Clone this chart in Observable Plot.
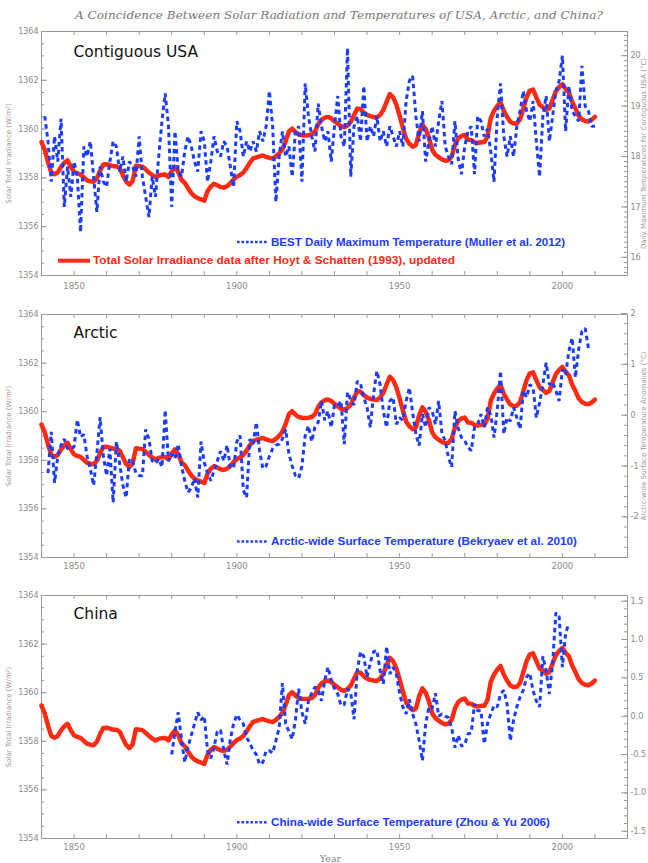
<!DOCTYPE html>
<html><head><meta charset="utf-8">
<script src="https://cdn.jsdelivr.net/npm/d3@7"></script>
<script src="https://cdn.jsdelivr.net/npm/@observablehq/plot@0.6"></script>
<style>
body{margin:0;background:#fff;}
#wrap{position:relative;width:648px;height:863px;overflow:hidden;background:#fff;}
.panel{position:absolute;left:0;}
#overlay{position:absolute;left:0;top:0;pointer-events:none;}
</style></head><body><div id="wrap"></div>
<script>
// ---------------- DATA ----------------
const chartTitle = "A Coincidence Between Solar Radiation and Temperatures of USA, Arctic, and China?";
const panelTitles = ["Contiguous USA", "Arctic", "China"];
const tsiLabel = "Solar Total Irradiance (W/m\u00b2)";
const rightLabels = ["Daily Maximum Temperatures for Contiguous USA (\u00b0C)", "Arctic-wide Surface Temperature Anomalies (\u00b0C)", ""];
const legendTemp = ["BEST Daily Maximum Temperature (Muller et al. 2012)", "Arctic-wide Surface Temperature (Bekryaev et al. 2010)", "China-wide Surface Temperature (Zhou & Yu 2006)"];
const legendTsi = "Total Solar Irradiance data after Hoyt & Schatten (1993), updated";
const xLabel = "Year";
const xTickLabels = [1850, 1900, 1950, 2000];
const tsiTicks = [1354, 1356, 1358, 1360, 1362, 1364];
const usaTicks = [16, 17, 18, 19, 20];
const arcticTicks = [-2, -1, 0, 1, 2];
const chinaTicks = [-1.5, -1.0, -0.5, 0.0, 0.5, 1.0, 1.5];

// Total solar irradiance (Hoyt & Schatten, updated), annual 1840-2010
const tsiStart = 1840;
const tsi = [
1359.47,1359.15,1358.65,1358.22,1358.15,1358.22,1358.45,1358.62,1358.72,1358.45,
1358.25,1358.18,1358.14,1358.02,1357.9,1357.86,1357.84,1357.98,1358.3,1358.55,
1358.56,1358.52,1358.48,1358.48,1358.4,1358.12,1357.85,1357.72,1357.88,1358.5,
1358.48,1358.46,1358.35,1358.22,1358.12,1358.03,1358.1,1358.13,1358.14,1358.04,
1358.28,1358.45,1358.25,1357.92,1357.8,1357.58,1357.38,1357.25,1357.17,1357.12,
1357.07,1357.45,1357.65,1357.76,1357.7,1357.63,1357.6,1357.66,1357.78,1357.93,
1358.05,1358.12,1358.22,1358.4,1358.62,1358.8,1358.84,1358.88,1358.92,1358.86,
1358.82,1358.79,1358.88,1359.0,1359.18,1359.5,1359.9,1360.02,1359.88,1359.78,
1359.75,1359.74,1359.75,1359.78,1359.9,1360.2,1360.38,1360.47,1360.5,1360.44,
1360.32,1360.22,1360.12,1360.08,1360.15,1360.3,1360.58,1360.84,1360.82,1360.68,
1360.58,1360.53,1360.5,1360.48,1360.58,1360.78,1361.12,1361.44,1361.3,1361.0,
1360.55,1360.05,1359.6,1359.4,1359.28,1359.35,1359.85,1360.18,1360.0,1359.65,
1359.15,1358.95,1358.85,1358.76,1358.7,1358.72,1358.88,1359.35,1359.62,1359.72,
1359.76,1359.56,1359.55,1359.45,1359.43,1359.46,1359.46,1359.7,1360.45,1360.75,
1360.95,1361.1,1360.75,1360.5,1360.3,1360.23,1360.24,1360.4,1360.85,1361.3,
1361.58,1361.62,1361.3,1361.0,1360.9,1360.78,1360.85,1361.2,1361.55,1361.72,
1361.84,1361.64,1361.5,1361.12,1360.85,1360.55,1360.4,1360.33,1360.31,1360.38,1360.5
];

// Contiguous USA daily maximum temperature (deg C), annual 1841-2010
const usaStart = 1841;
const usaTemp = [
18.8,18.3,17.5,18.4,17.9,18.75,17.0,17.8,17.2,17.9,
17.6,16.5,18.2,18.0,18.3,17.6,16.9,17.8,17.5,17.4,
17.9,18.3,18.2,17.7,18.0,17.5,17.9,17.8,17.6,18.4,
17.6,17.2,16.8,17.6,17.2,18.0,18.7,19.25,18.6,17.0,
18.5,17.7,17.6,18.1,18.4,18.2,17.9,17.7,18.5,18.3,
17.5,17.9,18.4,18.1,18.0,18.3,18.2,17.8,17.4,18.7,
18.5,18.0,18.3,18.1,18.3,18.1,18.5,18.3,18.6,19.3,
18.6,17.1,18.0,18.5,18.0,18.2,17.6,18.5,18.6,17.5,
19.45,18.8,18.4,18.1,19.05,18.6,18.3,18.5,17.9,18.6,
19.2,18.4,18.2,20.15,17.6,18.6,18.8,18.3,19.4,18.3,
18.6,18.4,18.8,18.3,18.5,18.2,18.6,18.4,18.2,18.5,
18.2,19.1,19.5,19.6,18.8,18.3,18.9,17.9,18.3,18.6,
18.2,18.7,19.1,18.2,18.0,17.85,18.7,17.95,17.65,18.2,
18.5,18.6,17.65,18.8,18.7,18.4,18.55,18.1,17.5,18.8,
19.45,18.4,18.0,18.4,18.0,18.6,18.9,19.3,18.9,18.7,
19.1,18.3,17.6,18.8,19.2,18.3,18.8,19.3,19.5,20.0,
18.5,19.4,18.9,18.8,18.7,19.8,19.0,18.9,18.6,18.6
];

// Arctic-wide surface temperature anomalies (deg C), annual 1842-2008
const arcticStart = 1842;
const arcticTemp = [
-1.14,-0.33,-1.33,-0.81,-0.59,-0.47,-0.66,-0.66,
-0.62,-0.09,-0.43,-0.38,-0.81,-1.05,-1.38,-0.76,-0.04,-0.81,
-1.19,-0.66,-1.72,-0.52,-0.95,-1.38,-1.62,-0.86,-0.9,-1.14,
-1.19,-1.19,-0.28,-0.47,-0.9,-0.95,-0.86,-1.02,0.1,-0.9,
-0.76,-0.86,-0.57,-1.0,-1.29,-1.52,-1.43,-1.24,-1.62,-0.52,
-0.93,-1.14,-1.29,-1.09,-0.9,-0.71,-0.9,-0.59,-1.02,-1.05,
-0.52,-0.4,-1.48,-1.62,-0.47,-0.57,-0.14,-0.71,-1.05,-1.0,
-0.81,-0.66,-0.59,-0.57,-0.47,-0.28,-0.76,-1.0,-1.19,-1.24,
-1.0,-0.4,-0.21,-0.52,-0.23,-0.14,0.28,-0.1,0.08,-0.24,
0.2,0.18,0.28,-0.57,0.45,0.3,0.2,0.67,0.62,0.35,
0.15,-0.24,0.41,0.87,0.6,0.08,-0.24,0.28,0.35,-0.18,
-0.05,-0.1,0.28,0.54,0.05,-0.37,-0.6,0.02,-0.24,0.15,
0.08,-0.18,0.28,-0.37,-0.5,-0.83,-1.02,0.08,-0.25,-0.44,
-0.5,-0.63,-0.7,-0.24,-0.18,0.02,-0.24,0.15,0.0,-0.44,
0.1,0.87,-0.37,-0.05,-0.12,0.15,-0.05,-0.27,0.48,0.35,
0.6,0.54,-0.05,0.25,0.6,1.03,0.6,0.65,0.48,0.28,
0.9,0.8,1.26,1.52,0.74,1.3,1.65,1.71,1.32
];

// China-wide surface temperature anomalies (deg C), annual 1880-2002
const chinaStart = 1880;
const chinaTemp = [
-0.5,-0.2,0.05,-0.3,-0.6,-0.4,-0.25,-0.1,0.05,-0.05,
0.0,-0.45,-0.55,-0.4,-0.2,-0.18,-0.45,-0.63,-0.3,-0.1,
0.02,-0.05,-0.1,-0.28,-0.35,-0.45,-0.5,-0.63,-0.6,-0.45,
-0.45,-0.48,-0.32,-0.15,0.43,-0.1,-0.2,-0.3,-0.05,0.36,
0.05,-0.1,0.2,0.3,0.38,0.35,0.2,0.47,0.64,0.47,
0.36,0.29,0.14,0.15,0.36,0.3,-0.04,0.6,0.84,0.78,
0.51,0.7,0.84,0.86,0.6,0.42,0.91,0.55,0.64,0.55,
0.3,0.12,0.03,0.22,0.03,-0.1,-0.32,-0.58,-0.1,0.12,
0.1,0.3,0.0,0.03,0.0,-0.02,-0.15,-0.41,-0.25,-0.39,
-0.37,-0.23,-0.22,0.16,0.07,0.07,-0.36,-0.1,0.03,0.14,
0.12,0.29,0.34,0.16,-0.32,-0.05,0.12,0.25,0.34,0.51,
0.56,0.33,0.2,0.12,0.78,0.6,0.29,0.69,1.35,1.3,
0.64,1.08,1.21
];

// ---------------- LAYOUT ----------------
const BLUE = "#1c3cff", RED = "#ff2a12", GRAY = "#999", LABEL = "#8a8a8a";
const FW = 586; // frame width
const tsiData = tsi.map((v, i) => ({year: tsiStart + i, v}));

const panels = [
  {top: 0, height: 295, mt: 31, mb: 20, temp: usaTemp, start: usaStart,
   tdom: [15.64, 20.48], ticks: usaTicks, minor: d3.range(157, 205).map(d => d / 10),
   fmt: d => String(d), titleDy: 25, xPad: 7},
  {top: 295, height: 280, mt: 19, mb: 18, temp: arcticTemp, start: arcticStart,
   tdom: [-2.8, 1.98], ticks: arcticTicks, minor: d3.range(-14, 10).map(d => d / 5),
   fmt: d => String(d), titleDy: 23, xPad: 5},
  {top: 575, height: 288, mt: 20, mb: 25, temp: chinaTemp, start: chinaStart,
   tdom: [-1.595, 1.574], ticks: chinaTicks, minor: d3.range(-15, 16).map(d => d / 10),
   fmt: d => d.toFixed(1), titleDy: 23, xPad: 5}
];

const wrap = document.getElementById("wrap");

panels.forEach((p, k) => {
  const H = p.height - p.mt - p.mb;
  const map = d3.scaleLinear().domain(p.tdom).range([1354, 1364]);
  const tempData = p.temp.map((t, i) => ({year: p.start + i, t}));
  const xMinor = d3.range(1840, 2021, 10);
  const leftMinor = d3.range(1354, 1364.001, 0.5);
  const marks = [
    Plot.frame({stroke: GRAY, strokeWidth: 1}),
    // x ticks (top & bottom, inward)
    Plot.tickX(xMinor, {x: d => d, stroke: GRAY, insetBottom: H - 4}),
    Plot.tickX(xMinor, {x: d => d, stroke: GRAY, insetTop: H - 4}),
    // left ticks
    Plot.tickY(leftMinor, {y: d => d, stroke: GRAY, insetRight: FW - 3}),
    Plot.tickY(tsiTicks, {y: d => d, stroke: GRAY, insetRight: FW - 6}),
    // right ticks
    Plot.tickY(p.minor, {y: d => map(d), stroke: GRAY, insetLeft: FW - 3}),
    Plot.tickY(p.ticks, {y: d => map(d), stroke: GRAY, insetLeft: FW - 6}),
    // tick labels
    Plot.text(tsiTicks, {y: d => d, text: d => String(d), frameAnchor: "left", textAnchor: "end", dx: -3, fontSize: 8, fill: LABEL}),
    Plot.text(p.ticks, {y: d => map(d), text: d => p.fmt(d), frameAnchor: "right", textAnchor: "start", dx: 3, fontSize: 8, fill: LABEL}),
    Plot.text(xTickLabels, {x: d => d, text: d => String(d), frameAnchor: "bottom", lineAnchor: "top", dy: p.xPad, fontSize: 8.5, fill: LABEL}),
    // axis titles
    Plot.text([tsiLabel], {frameAnchor: "left", textAnchor: "middle", lineAnchor: "middle", rotate: -90, dx: -33, fontSize: 7, fill: GRAY}),
    Plot.text([rightLabels[k]], {frameAnchor: "right", textAnchor: "middle", lineAnchor: "middle", rotate: -90, dx: 16, fontSize: 7, fill: GRAY}),
    // panel title
    Plot.text([panelTitles[k]], {frameAnchor: "top-left", textAnchor: "start", lineAnchor: "bottom", dx: 32, dy: p.titleDy, fontSize: 15.5, fill: "#111"}),
    // data: solar irradiance (solid red) then temperature (dashed blue) on top
    Plot.line(tsiData, {x: "year", y: "v", stroke: RED, strokeWidth: 4.5, strokeLinejoin: "round", strokeLinecap: "round"}),
    Plot.line(tempData, {x: "year", y: d => map(d.t), stroke: BLUE, strokeWidth: 3, strokeDasharray: "4.5,3.5", strokeLinecap: "butt", strokeLinejoin: "miter"})
  ];
  if (k === 2) {
    marks.push(Plot.text([xLabel], {frameAnchor: "bottom", lineAnchor: "bottom", dx: -4, dy: 23, fontSize: 9.5, fill: LABEL, fontFamily: "DejaVu Serif"}));
  }
  const plot = Plot.plot({
    width: 648, height: p.height,
    marginTop: p.mt, marginBottom: p.mb, marginLeft: 41, marginRight: 21,
    x: {domain: [1840, 2020], axis: null},
    y: {domain: [1354, 1364], axis: null},
    style: {background: "transparent", fontFamily: "DejaVu Sans"},
    marks
  });
  const div = document.createElement("div");
  div.className = "panel";
  div.style.top = p.top + "px";
  div.appendChild(plot);
  wrap.appendChild(div);
});

// ---------------- TITLE & LEGENDS (overlay) ----------------
const ov = d3.select(wrap).append("svg").attr("id", "overlay")
  .attr("width", 648).attr("height", 863);
ov.append("text").attr("x", 75).attr("y", 19).text(chartTitle)
  .attr("textLength", 528).attr("lengthAdjust", "spacingAndGlyphs")
  .style("font", "italic 11.5px 'DejaVu Serif'").attr("fill", "#777");

const legendRows = [
  {y: 242, end: 565},
  {y: 541.5, end: 577},
  {y: 822.3, end: 550}
];
legendRows.forEach((r, k) => {
  ov.append("line").attr("x1", 237).attr("x2", 268).attr("y1", r.y).attr("y2", r.y)
    .attr("stroke", BLUE).attr("stroke-width", 2.6).attr("stroke-dasharray", "2.6,1.9");
  ov.append("text").attr("x", 271).attr("y", r.y + 3.6).text(legendTemp[k])
    .attr("textLength", r.end - 271).attr("lengthAdjust", "spacingAndGlyphs")
    .style("font", "bold 10px 'Liberation Sans'").attr("fill", BLUE);
});
ov.append("line").attr("x1", 58).attr("x2", 90).attr("y1", 260.7).attr("y2", 260.7)
  .attr("stroke", RED).attr("stroke-width", 4);
ov.append("text").attr("x", 93).attr("y", 264.3).text(legendTsi)
  .attr("textLength", 362).attr("lengthAdjust", "spacingAndGlyphs")
  .style("font", "bold 10px 'Liberation Sans'").attr("fill", RED);
</script></body></html>
